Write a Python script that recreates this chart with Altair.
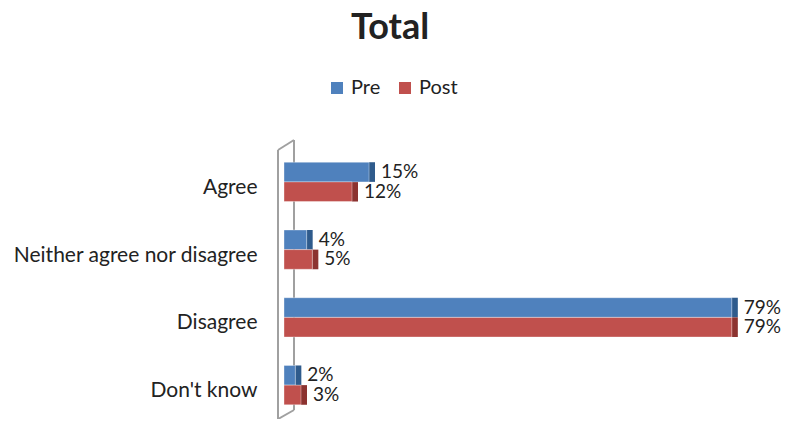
import altair as alt
import pandas as pd

categories = ["Agree", "Neither agree nor disagree", "Disagree", "Don't know"]
series = ["Pre", "Post"]
pre_values = [15, 4, 79, 2]
post_values = [12, 5, 79, 3]

rows = []
for c, p, q in zip(categories, pre_values, post_values):
    rows.append({"category": c, "series": "Pre", "value": p, "label": f"{p}%"})
    rows.append({"category": c, "series": "Post", "value": q, "label": f"{q}%"})
df = pd.DataFrame(rows)

FONT = "Lato"
face_colors = ["#4F81BD", "#C0504D"]
side_colors = ["#2F5B8C", "#8C3330"]

y_enc = alt.Y("category:N", sort=categories,
              scale=alt.Scale(paddingInner=0.42, paddingOuter=0.21),
              axis=alt.Axis(title=None, domain=False, ticks=False, labelPadding=27,
                            labelFontSize=21, labelFont=FONT, labelColor="#222222",
                            labelLimit=400, labelOffset=6))
yoff = alt.YOffset("series:N", sort=series)
x_enc = alt.X("value:Q", scale=alt.Scale(domain=[0, 81.5]), axis=None)

base = alt.Chart(df)

wall_df = pd.DataFrame({"k": [0]})
wall = alt.Chart(wall_df)
wall_style = dict(color="#A0A0A0", strokeWidth=2)
wall_left = wall.mark_rule(**wall_style).encode(x=alt.value(-6), y=alt.value(2), y2=alt.value(280))
wall_right = wall.mark_rule(**wall_style).encode(x=alt.value(10), y=alt.value(-8), y2=alt.value(262))
wall_top = wall.mark_rule(**wall_style).encode(x=alt.value(-6), y=alt.value(2), x2=alt.value(10), y2=alt.value(-8))
wall_bot = wall.mark_rule(**wall_style).encode(x=alt.value(-6), y=alt.value(271), x2=alt.value(10), y2=alt.value(262))

side = base.mark_bar(x2Offset=6).encode(
    y=y_enc, yOffset=yoff,
    x=x_enc, x2="value:Q",
    color=alt.Color("series:N", scale=alt.Scale(domain=series, range=side_colors), legend=None),
)

bars = base.mark_bar(stroke="#FFFFFF", strokeOpacity=0.35, strokeWidth=1).encode(
    y=y_enc, yOffset=yoff,
    x=x_enc,
    color=alt.Color("series:N", scale=alt.Scale(domain=series, range=face_colors),
                    legend=alt.Legend(title=None, orient="none", direction="horizontal",
                                      legendX=43, legendY=-70,
                                      symbolType="square", symbolSize=144,
                                      symbolStrokeWidth=0,
                                      labelFont=FONT, labelFontSize=20,
                                      labelColor="#222222", columnPadding=14,
                                      labelOffset=4)),
)

labels = base.mark_text(align="left", baseline="middle", dx=12, font=FONT,
                        fontSize=19, color="#222222").encode(
    y=y_enc, yOffset=yoff, x=x_enc, text="label:N"
)

chart = alt.layer(wall_right, wall_left, wall_top, wall_bot, side, bars, labels).resolve_scale(
    color="independent"
).properties(
    width=462, height=271,
    autosize=alt.AutoSizeParams(type="none"),
    padding={"left": 276, "top": 140, "right": 40, "bottom": 0},
    title=alt.TitleParams("Total", font=FONT, fontSize=36, fontWeight="bold",
                          color="#222222", anchor="middle", dx=-125, offset=31),
).configure_view(stroke=None)

chart.save("out.html", embed_options={"renderer": "svg", "actions": False})
